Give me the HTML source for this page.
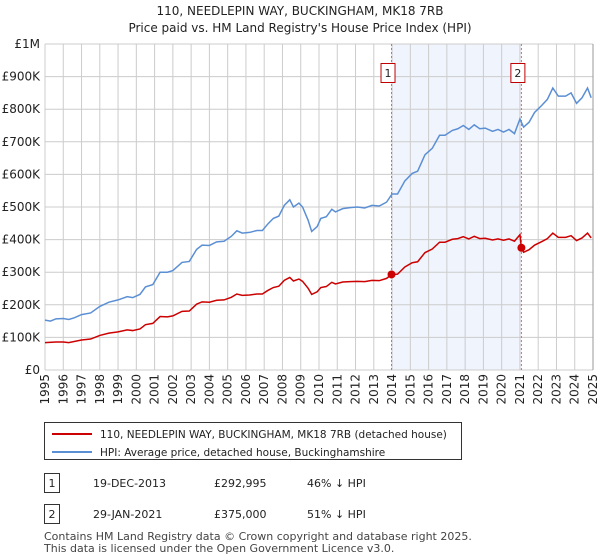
<!DOCTYPE html>
<html><head><meta charset="utf-8"><style>
body{margin:0;background:#fff;font-family:"Liberation Sans",sans-serif;}
#wrap{position:relative;width:600px;height:560px;overflow:hidden;}
svg text{font-family:"DejaVu Sans","Liberation Sans",sans-serif;}
</style></head><body>
<div id="wrap">
<svg id="chart" width="600" height="560"></svg>
</div>
<script>
const yTicks=[0,100,200,300,400,500,600,700,800,900,1000];
const yTickLabels=["£0","£100K","£200K","£300K","£400K","£500K","£600K","£700K","£800K","£900K","£1M"];
const xYears=[1995,1996,1997,1998,1999,2000,2001,2002,2003,2004,2005,2006,2007,2008,2009,2010,2011,2012,2013,2014,2015,2016,2017,2018,2019,2020,2021,2022,2023,2024,2025];
const hpiT=[1995.0,1995.3,1995.6,1996.0,1996.3,1996.6,1997.0,1997.5,1998.0,1998.5,1999.0,1999.5,1999.8,2000.2,2000.5,2000.9,2001.3,2001.7,2002.0,2002.5,2002.9,2003.3,2003.6,2004.0,2004.4,2004.8,2005.2,2005.5,2005.8,2006.2,2006.6,2006.9,2007.2,2007.5,2007.8,2008.1,2008.4,2008.6,2008.9,2009.1,2009.4,2009.6,2009.9,2010.1,2010.4,2010.7,2010.9,2011.3,2011.7,2012.1,2012.5,2012.9,2013.3,2013.7,2014.0,2014.3,2014.7,2015.1,2015.4,2015.8,2016.2,2016.6,2016.9,2017.3,2017.6,2017.9,2018.2,2018.5,2018.8,2019.1,2019.5,2019.8,2020.1,2020.4,2020.7,2021.0,2021.2,2021.5,2021.8,2022.2,2022.5,2022.8,2023.1,2023.5,2023.8,2024.1,2024.4,2024.7,2024.9];
const hpiV=[153,150,157,158,155,160,170,175,195,208,215,225,222,232,255,262,300,300,305,330,333,370,383,382,393,395,410,427,420,422,428,428,448,465,472,505,522,500,512,500,460,425,440,465,470,493,485,495,498,500,497,505,503,515,540,540,580,603,610,660,680,720,720,735,740,750,738,752,740,742,732,738,730,738,725,770,745,760,790,812,830,865,840,840,850,818,835,865,835];
const redT=[1995.0,1995.6,1996.0,1996.3,1997.0,1997.5,1998.0,1998.5,1999.0,1999.5,1999.8,2000.2,2000.5,2000.9,2001.3,2001.7,2002.0,2002.5,2002.9,2003.3,2003.6,2004.0,2004.4,2004.8,2005.2,2005.5,2005.8,2006.2,2006.6,2006.9,2007.2,2007.5,2007.8,2008.1,2008.4,2008.6,2008.9,2009.1,2009.4,2009.6,2009.9,2010.1,2010.4,2010.7,2010.9,2011.3,2011.7,2012.1,2012.5,2012.9,2013.3,2013.7,2013.97,2014.3,2014.7,2015.1,2015.4,2015.8,2016.2,2016.6,2016.9,2017.3,2017.6,2017.9,2018.2,2018.5,2018.8,2019.1,2019.5,2019.8,2020.1,2020.4,2020.7,2021.0,2021.08,2021.2,2021.5,2021.8,2022.2,2022.5,2022.8,2023.1,2023.5,2023.8,2024.1,2024.4,2024.7,2024.9];
const redV=[84,86,86,84,92,95,106,113,117,123,121,126,139,143,164,163,166,180,181,202,209,208,214,215,223,233,229,230,233,233,244,253,257,275,284,273,279,272,251,232,240,253,256,269,264,270,271,272,271,275,274,281,293,294,316,329,332,360,371,392,392,401,403,409,402,410,403,404,399,402,398,402,395,415,375,361,369,383,394,403,420,407,407,412,397,405,420,405];
const saleT=[2013.97,2021.08];
const saleV=[292.995,375];
const saleLabels=["1","2"];

const NS="http://www.w3.org/2000/svg";
const svg=document.getElementById('chart');
const X0=45,X1=593,Y0=370,Y1=44;
const xs=t=>X0+(t-1995)/30*(X1-X0);
const ys=v=>Y0-v/1000*(Y0-Y1);
function mk(tag,attrs,parent){const e=document.createElementNS(NS,tag);for(const k in attrs)e.setAttribute(k,attrs[k]);(parent||svg).appendChild(e);return e;}
function txt(s,attrs){const e=mk('text',attrs);e.textContent=s;return e;}

let t=txt("110, NEEDLEPIN WAY, BUCKINGHAM, MK18 7RB",{x:300,y:15,'text-anchor':'middle','font-size':12,fill:'#222'});

t=txt("Price paid vs. HM Land Registry's House Price Index (HPI)",{x:300,y:32,'text-anchor':'middle','font-size':12,fill:'#222'});


let sh=mk('rect',{x:xs(saleT[0]),y:Y1,width:xs(saleT[1])-xs(saleT[0]),height:Y0-Y1,fill:'#f0f4fd'});


yTicks.forEach((v,i)=>{
  let l=mk('line',{x1:X0,x2:X1,y1:ys(v),y2:ys(v),stroke:'#cccccc','stroke-width':1});
  
  let tx=txt(yTickLabels[i],{x:40,y:ys(v)+4,'text-anchor':'end','font-size':12,fill:'#222'});
  
});
xYears.forEach(yr=>{
  let l=mk('line',{x1:xs(yr),x2:xs(yr),y1:Y1,y2:Y0,stroke:'#cccccc','stroke-width':1});
  
  let tx=txt(String(yr),{x:0,y:0,'text-anchor':'end','font-size':12,fill:'#222',transform:`translate(${xs(yr)+4},374) rotate(-90)`});
  
});
let ax=mk('line',{x1:X1,x2:X1,y1:Y1,y2:Y0,stroke:'#999','stroke-width':1});


saleT.forEach((st,i)=>{
  let l=mk('line',{x1:xs(st),x2:xs(st),y1:Y1,y2:Y0,stroke:'#e06666','stroke-width':1,'stroke-dasharray':'2,2'});
  
  let b=mk('rect',{x:xs(st)-10.5,y:63.5,width:14,height:19,fill:'#fff',stroke:'#c00000','stroke-width':1});
  
  let tx=txt(saleLabels[i],{x:xs(st)-3.5,y:77,'text-anchor':'middle','font-size':11,fill:'#222'});
  
});

let p=mk('polyline',{points:hpiT.map((tt,i)=>xs(tt)+','+ys(hpiV[i])).join(' '),fill:'none',stroke:'#5b8fd4','stroke-width':1.5});

p=mk('polyline',{points:redT.map((tt,i)=>xs(tt)+','+ys(redV[i])).join(' '),fill:'none',stroke:'#cc0000','stroke-width':1.5});

saleT.forEach((st,i)=>{
  let c=mk('circle',{cx:xs(st),cy:ys(saleV[i]),r:4,fill:'#cc0000'});
  
});

let lg=mk('rect',{x:44.5,y:422.5,width:417,height:37,fill:'#fff',stroke:'#333','stroke-width':1});

let ll=mk('line',{x1:52,x2:92,y1:434,y2:434,stroke:'#cc0000','stroke-width':2});

t=txt("110, NEEDLEPIN WAY, BUCKINGHAM, MK18 7RB (detached house)",{x:100,y:438,'font-size':10.5,fill:'#222'});

ll=mk('line',{x1:52,x2:92,y1:452,y2:452,stroke:'#5b8fd4','stroke-width':2});

t=txt("HPI: Average price, detached house, Buckinghamshire",{x:100,y:456,'font-size':10.5,fill:'#222'});


const rows=[["1","19-DEC-2013","£292,995","46% ↓ HPI",483],["2","29-JAN-2021","£375,000","51% ↓ HPI",514]];
rows.forEach(r=>{
  let b=mk('rect',{x:44.5,y:r[4]-9.5,width:15,height:19,fill:'#fff',stroke:'#333','stroke-width':1});
  
  let a=txt(r[0],{x:52,y:r[4]+4,'text-anchor':'middle','font-size':11,fill:'#222'});
  
  a=txt(r[1],{x:93,y:r[4]+4,'font-size':11,fill:'#222'});
  
  a=txt(r[2],{x:214,y:r[4]+4,'font-size':11,fill:'#222'});
  
  a=txt(r[3],{x:307,y:r[4]+4,'font-size':11,fill:'#222'});
  
});
t=txt("Contains HM Land Registry data © Crown copyright and database right 2025.",{x:44,y:540,'font-size':11,fill:'#444'});

t=txt("This data is licensed under the Open Government Licence v3.0.",{x:44,y:552,'font-size':11,fill:'#444'});

</script>
</body></html>
